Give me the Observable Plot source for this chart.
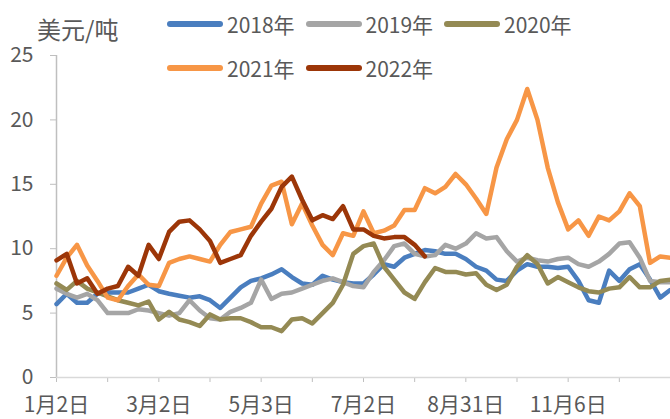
<!DOCTYPE html>
<html><head><meta charset="utf-8">
<script src="https://cdn.jsdelivr.net/npm/d3@7"></script>
<script src="https://cdn.jsdelivr.net/npm/@observablehq/plot@0.6"></script>
<style>
body{margin:0;background:#fff;}
#wrap{position:relative;width:670px;height:419px;font-family:"Noto Sans CJK SC",sans-serif;color:#595959;}
#unit{position:absolute;left:37px;top:13px;font-size:24px;line-height:32px;}
#legend{position:absolute;left:167px;top:2px;width:420px;display:flex;flex-wrap:wrap;}
.item{width:138.5px;height:44px;display:flex;align-items:center;font-size:21px;}
.sw{width:56px;height:6px;border-radius:3px;margin-right:4px;}
</style></head>
<body><div id="wrap"><div id="chart"></div><div id="unit">美元/吨</div><div id="legend"></div></div>
<script>
const years = ["2018年","2019年","2020年","2021年","2022年"];
const colors = ["#4A7EBF","#A5A5A5","#948A54","#F79646","#9C3608"];
const step = 4; // categories between stored samples
const v2018 = [5.7,6.5,5.8,5.8,6.5,6.6,6.6,6.6,6.9,7.2,6.7,6.5,6.35,6.2,6.3,6.0,5.4,6.2,7.0,7.5,7.7,8.0,8.4,7.8,7.3,7.2,7.9,7.6,7.4,7.3,7.3,8.0,8.8,8.6,9.3,9.6,9.9,9.8,9.6,9.6,9.2,8.6,8.3,7.6,7.5,8.3,8.8,8.6,8.6,8.5,8.6,7.5,6.0,5.8,8.3,7.5,8.4,8.8,7.6,6.2,6.8];
const v2019 = [6.9,6.5,6.2,6.5,6.0,5.0,5.0,5.0,5.3,5.2,5.0,4.8,5.0,6.0,5.2,4.6,4.5,5.1,5.4,5.8,7.6,6.1,6.5,6.6,6.9,7.2,7.5,7.7,7.4,7.1,7.0,8.2,9.1,10.2,10.4,9.6,9.4,9.5,10.3,10.0,10.4,11.2,10.8,10.9,9.8,9.0,9.3,9.1,9.0,9.2,9.3,8.8,8.6,9.0,9.6,10.4,10.5,9.3,7.5,7.4,7.4];
const v2020 = [7.3,6.8,7.5,6.9,6.6,6.3,6.0,5.8,5.6,5.9,4.5,5.1,4.5,4.3,4.0,4.9,4.5,4.6,4.6,4.3,3.9,3.9,3.6,4.5,4.6,4.2,5.0,5.8,7.2,9.6,10.2,10.4,8.6,7.6,6.6,6.1,7.4,8.5,8.2,8.2,8.0,8.1,7.2,6.8,7.2,8.6,9.5,8.8,7.3,7.8,7.4,7.0,6.7,6.6,6.9,7.0,7.8,7.0,7.0,7.5,7.6];
const v2021 = [7.9,9.3,10.3,8.7,7.5,6.2,6.0,7.1,8.0,7.2,7.1,8.9,9.2,9.4,9.2,9.0,10.3,11.3,11.5,11.7,13.5,14.9,15.2,11.9,13.5,11.8,10.3,9.5,11.2,11.0,12.9,11.2,11.4,11.8,13.0,13.0,14.7,14.3,14.8,15.8,15.0,13.9,12.7,16.3,18.5,20.0,22.4,20.0,16.3,13.6,11.5,12.2,11.0,12.5,12.2,12.9,14.3,13.3,8.9,9.4,9.3];
const v2022 = [9.1,9.6,7.3,7.7,6.5,6.9,7.1,8.6,7.9,10.3,9.2,11.3,12.1,12.2,11.5,10.6,8.9,9.2,9.5,11.0,12.1,13.1,14.8,15.6,13.8,12.2,12.6,12.3,13.3,11.5,11.5,11.0,10.8,10.9,10.9,10.3,9.4];
const tickLabels = ["1月2日","3月2日","5月3日","7月2日","8月31日","11月6日"];
const labelIdx = [0,40,80,120,160,200];
const yTicks = [0,5,10,15,20,25];

const series = [v2018,v2019,v2020,v2021,v2022];
const rows = series.map((vals, s) => vals.map((v, i) => ({year: years[s], x: i * step, v})));
const tickIdx = d3.range(0, 241, 20);
const font = '"Noto Sans CJK SC", sans-serif';

const chart = Plot.plot({
  width: 670, height: 419,
  marginTop: 55, marginBottom: 42, marginLeft: 56, marginRight: 0,
  style: {fontFamily: font, fontSize: "21px", color: "#595959", background: "transparent", overflow: "visible"},
  x: {domain: [0, 240], axis: null},
  y: {domain: [0, 25], axis: null},
  marks: [
    Plot.axisY({ticks: yTicks, tickSize: 6, tickPadding: 17, stroke: "#BFBFBF", fill: "#595959", fontSize: 21, label: null}),
    Plot.axisX({ticks: tickIdx, tickSize: 5, tickFormat: () => "", stroke: "#BFBFBF", label: null}),
    Plot.axisX({ticks: labelIdx, tickSize: 0, tickPadding: 20, tickFormat: d => tickLabels[labelIdx.indexOf(d)], fill: "#595959", fontSize: 21, label: null}),
    Plot.ruleX([0], {stroke: "#BFBFBF", strokeWidth: 1.5}),
    Plot.ruleY([0], {stroke: "#D9D9D9", strokeWidth: 1.5}),
    ...rows.map((r, s) => Plot.line(r, {x: "x", y: "v", stroke: colors[s], strokeWidth: 4.5, strokeLinejoin: "round", strokeLinecap: "round"}))
  ]
});
document.getElementById("chart").appendChild(chart);

const legend = document.getElementById("legend");
years.forEach((y, i) => {
  const it = document.createElement("div");
  it.className = "item";
  it.innerHTML = `<span class="sw" style="background:${colors[i]}"></span><span>${y}</span>`;
  legend.appendChild(it);
});
</script>
</body></html>
